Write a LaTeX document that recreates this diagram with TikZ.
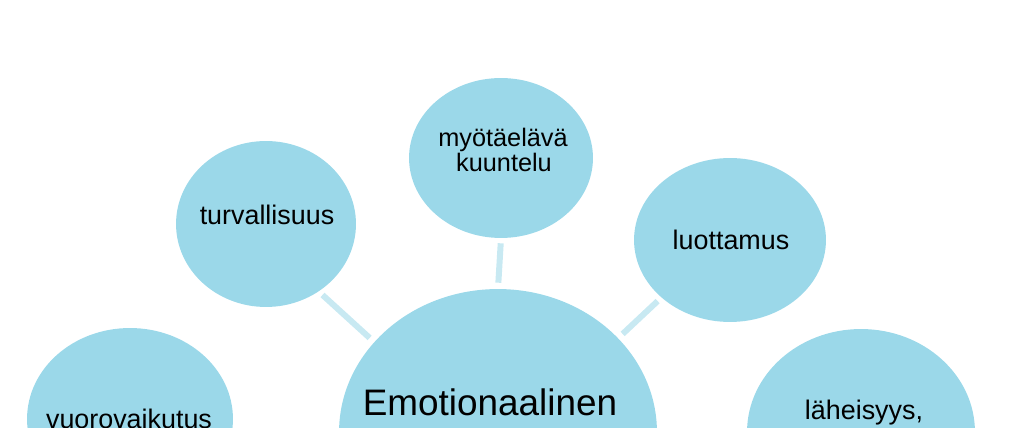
\documentclass[tikz,border=0pt]{standalone}
\usepackage{fontspec}
\setmainfont{Liberation Sans}
\usetikzlibrary{shapes.geometric}
\definecolor{bubblefill}{RGB}{155,216,233}
\definecolor{linkcol}{RGB}{200,233,242}
\newcommand{\smallsize}{\fontsize{15.3}{14}\selectfont}
\newcommand{\tightsize}{\fontsize{14.4}{14}\selectfont}
\newcommand{\bigsize}{\fontsize{21}{22}\selectfont}

\begin{document}
\begin{tikzpicture}[x=0.02cm,y=-0.02cm,
    bubble/.style 2 args={ellipse,fill=bubblefill,inner sep=0pt,
      minimum width=#1*0.04cm,minimum height=#2*0.04cm},
    link/.style={draw=linkcol,line width=0.12cm,shorten <=0.1cm,shorten >=0.12cm},
    word/.style={anchor=base,inner sep=0pt,font=\smallsize}]
  \useasboundingbox (0,0) rectangle (1024,428);

  \node[bubble={159}{143}] (emo)   at (498,432) {};
  \node[bubble={92}{80}]   (myo)   at (501,158) {};
  \node[bubble={90}{83}]   (turv)  at (266,224) {};
  \node[bubble={96}{82}]   (luot)  at (730,240) {};
  \node[bubble={103}{91}]  (vuoro) at (130,419) {};
  \node[bubble={114}{103}] (lahe)  at (861,432) {};

  \node[word,font=\bigsize] (emotext) at (490,416) {Emotionaalinen};
  \node[word,font=\tightsize] (myotextA) at (503,147) {myötäelävä};
  \node[word,font=\tightsize] (myotextB) at (504,172) {kuuntelu};
  \node[word] (turvtext)  at (267,225) {turvallisuus};
  \node[word] (luottext)  at (731,250) {luottamus};
  \node[word] (vuorotext) at (129,429) {vuorovaikutus};
  \node[word] (lahetext)  at (864,420) {läheisyys,};

  \draw[link] (turv.-52)  -- (emo.144);
  \draw[link] (myo.south) -- (emo.north);
  \draw[link] (luot.-140) -- (emo.38);

\end{tikzpicture}
\end{document}
